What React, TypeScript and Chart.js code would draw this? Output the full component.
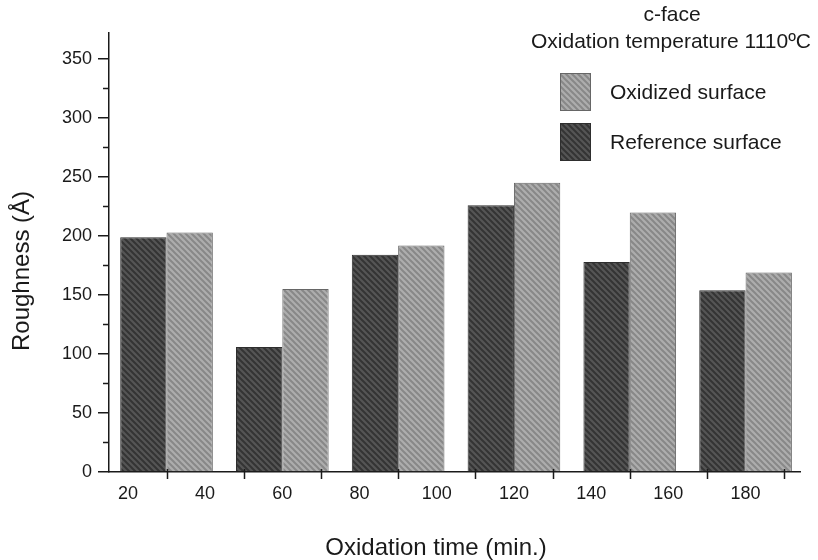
import React, { useEffect, useRef } from 'react';
import { Chart, registerables } from 'chart.js';

Chart.register(...registerables);

// ---- data ----
const groupTimes = [30, 60, 90, 120, 150, 180];
const referenceValues = [199, 106, 184, 226, 178, 154];
const oxidizedValues = [203, 155, 192, 245, 220, 169];
const seriesNames = ['Reference surface', 'Oxidized surface'];
const xTickLabels = [20, 40, 60, 80, 100, 120, 140, 160, 180];
const xTickMarks = [30, 50, 70, 90, 110, 130, 150, 170, 190];
const yMajorTicks = [0, 50, 100, 150, 200, 250, 300, 350];
const yMinorTicks = [25, 75, 125, 175, 225, 275, 325];
const titleLines = ['c-face', 'Oxidation temperature 1110ºC'];
const xAxisTitle = 'Oxidation time (min.)';
const yAxisTitle = 'Roughness (Å)';

const FONT = '"Liberation Sans", Arial, Helvetica, sans-serif';
const INK = '#1a1a1a';

function makeHatch(ctx: CanvasRenderingContext2D, bg: string, stripe: string) {
  const s = 6;
  const c = document.createElement('canvas');
  c.width = s;
  c.height = s;
  const g = c.getContext('2d')!;
  g.fillStyle = bg;
  g.fillRect(0, 0, s, s);
  g.strokeStyle = stripe;
  g.lineWidth = 2;
  g.beginPath();
  g.moveTo(-1, -1);
  g.lineTo(s + 1, s + 1);
  g.moveTo(-1, s - 1);
  g.lineTo(1, s + 1);
  g.moveTo(s - 1, -1);
  g.lineTo(s + 1, 1);
  g.stroke();
  return ctx.createPattern(c, 'repeat')!;
}

const overlayPlugin = {
  id: 'overlay',
  afterDraw(chart: any) {
    const { ctx, chartArea, scales } = chart;
    const xs = scales.x;
    const ys = scales.y;
    ctx.save();
    ctx.strokeStyle = INK;
    ctx.lineWidth = 1.5;
    // minor y ticks
    yMinorTicks.forEach((v) => {
      const py = Math.round(ys.getPixelForValue(v)) + 0.5;
      ctx.beginPath();
      ctx.moveTo(chartArea.left - 6, py);
      ctx.lineTo(chartArea.left, py);
      ctx.stroke();
    });
    // x tick marks between labels
    xTickMarks.forEach((v) => {
      const px = Math.round(xs.getPixelForValue(v)) + 0.5;
      ctx.beginPath();
      ctx.moveTo(px, chartArea.bottom - 3);
      ctx.lineTo(px, chartArea.bottom + 7);
      ctx.stroke();
    });

    ctx.fillStyle = INK;
    ctx.textAlign = 'center';
    ctx.textBaseline = 'middle';
    // title block
    ctx.font = `21px ${FONT}`;
    ctx.fillText(titleLines[0], 672, 15);
    ctx.fillText(titleLines[1], 671, 42);

    // legend (reverse order)
    const ds = chart.data.datasets;
    const order = [1, 0];
    order.forEach((di, i) => {
      const d = ds[di];
      const by = 73 + i * 50;
      ctx.fillStyle = d.backgroundColor;
      ctx.fillRect(560, by, 31, 38);
      ctx.strokeStyle = d.borderColor;
      ctx.lineWidth = 1;
      ctx.strokeRect(560.5, by + 0.5, 30, 37);
      ctx.fillStyle = INK;
      ctx.textAlign = 'left';
      ctx.font = `21px ${FONT}`;
      ctx.fillText(d.label, 610, by + 20);
    });

    // axis titles
    ctx.textAlign = 'center';
    ctx.font = `24px ${FONT}`;
    ctx.fillText(xAxisTitle, 436, 548);
    ctx.save();
    ctx.translate(22, 271);
    ctx.rotate(-Math.PI / 2);
    ctx.fillText(yAxisTitle, 0, 0);
    ctx.restore();
    ctx.restore();
  },
};

export default function App() {
  const ref = useRef<HTMLCanvasElement>(null);
  useEffect(() => {
    document.body.style.margin = '0';
    const canvas = ref.current!;
    const ctx = canvas.getContext('2d')!;
    const darkHatch = makeHatch(ctx, '#555555', '#343434');
    const lightHatch = makeHatch(ctx, '#adadad', '#888888');
    const chart = new Chart(canvas, {
      type: 'bar',
      data: {
        datasets: [
          {
            label: seriesNames[0],
            data: groupTimes.map((t, i) => ({ x: t, y: referenceValues[i] })),
            backgroundColor: darkHatch as any,
            borderColor: '#2e2e2e',
            borderWidth: 1,
            categoryPercentage: 1.2,
            barPercentage: 1,
          },
          {
            label: seriesNames[1],
            data: groupTimes.map((t, i) => ({ x: t, y: oxidizedValues[i] })),
            backgroundColor: lightHatch as any,
            borderColor: '#666666',
            borderWidth: 1,
            categoryPercentage: 1.2,
            barPercentage: 1,
          },
        ],
      },
      options: {
        responsive: false,
        animation: false,
        layout: { padding: { left: 0, top: 33, right: 18, bottom: 0 } },
        plugins: {
          legend: { display: false },
          tooltip: { enabled: false },
          title: { display: false },
        },
        scales: {
          x: {
            type: 'linear',
            min: 15.1,
            max: 194.1,
            offset: false,
            grid: { display: false, drawTicks: false },
            border: { display: true, color: INK, width: 1.5 },
            ticks: {
              padding: 11,
              color: INK,
              font: { size: 18, family: FONT },
              autoSkip: false,
              maxRotation: 0,
            },
            afterBuildTicks: (s: any) => {
              s.ticks = xTickLabels.map((v) => ({ value: v }));
            },
            afterFit: (s: any) => {
              s.height = 88;
            },
          },
          y: {
            type: 'linear',
            min: 0,
            max: 372,
            grid: { drawOnChartArea: false, tickLength: 11, color: INK, lineWidth: 1.5 },
            border: { display: true, color: INK, width: 1.5 },
            ticks: {
              padding: 6,
              color: INK,
              font: { size: 18, family: FONT },
            },
            afterBuildTicks: (s: any) => {
              s.ticks = yMajorTicks.map((v) => ({ value: v }));
            },
            afterFit: (s: any) => {
              s.width = 109;
            },
          },
        },
      },
      plugins: [overlayPlugin],
    });
    return () => chart.destroy();
  }, []);
  return (
    <div style={{ position: 'fixed', left: 0, top: 0, width: 818, height: 560, background: '#fff' }}>
      <canvas ref={ref} width={818} height={560} />
    </div>
  );
}
